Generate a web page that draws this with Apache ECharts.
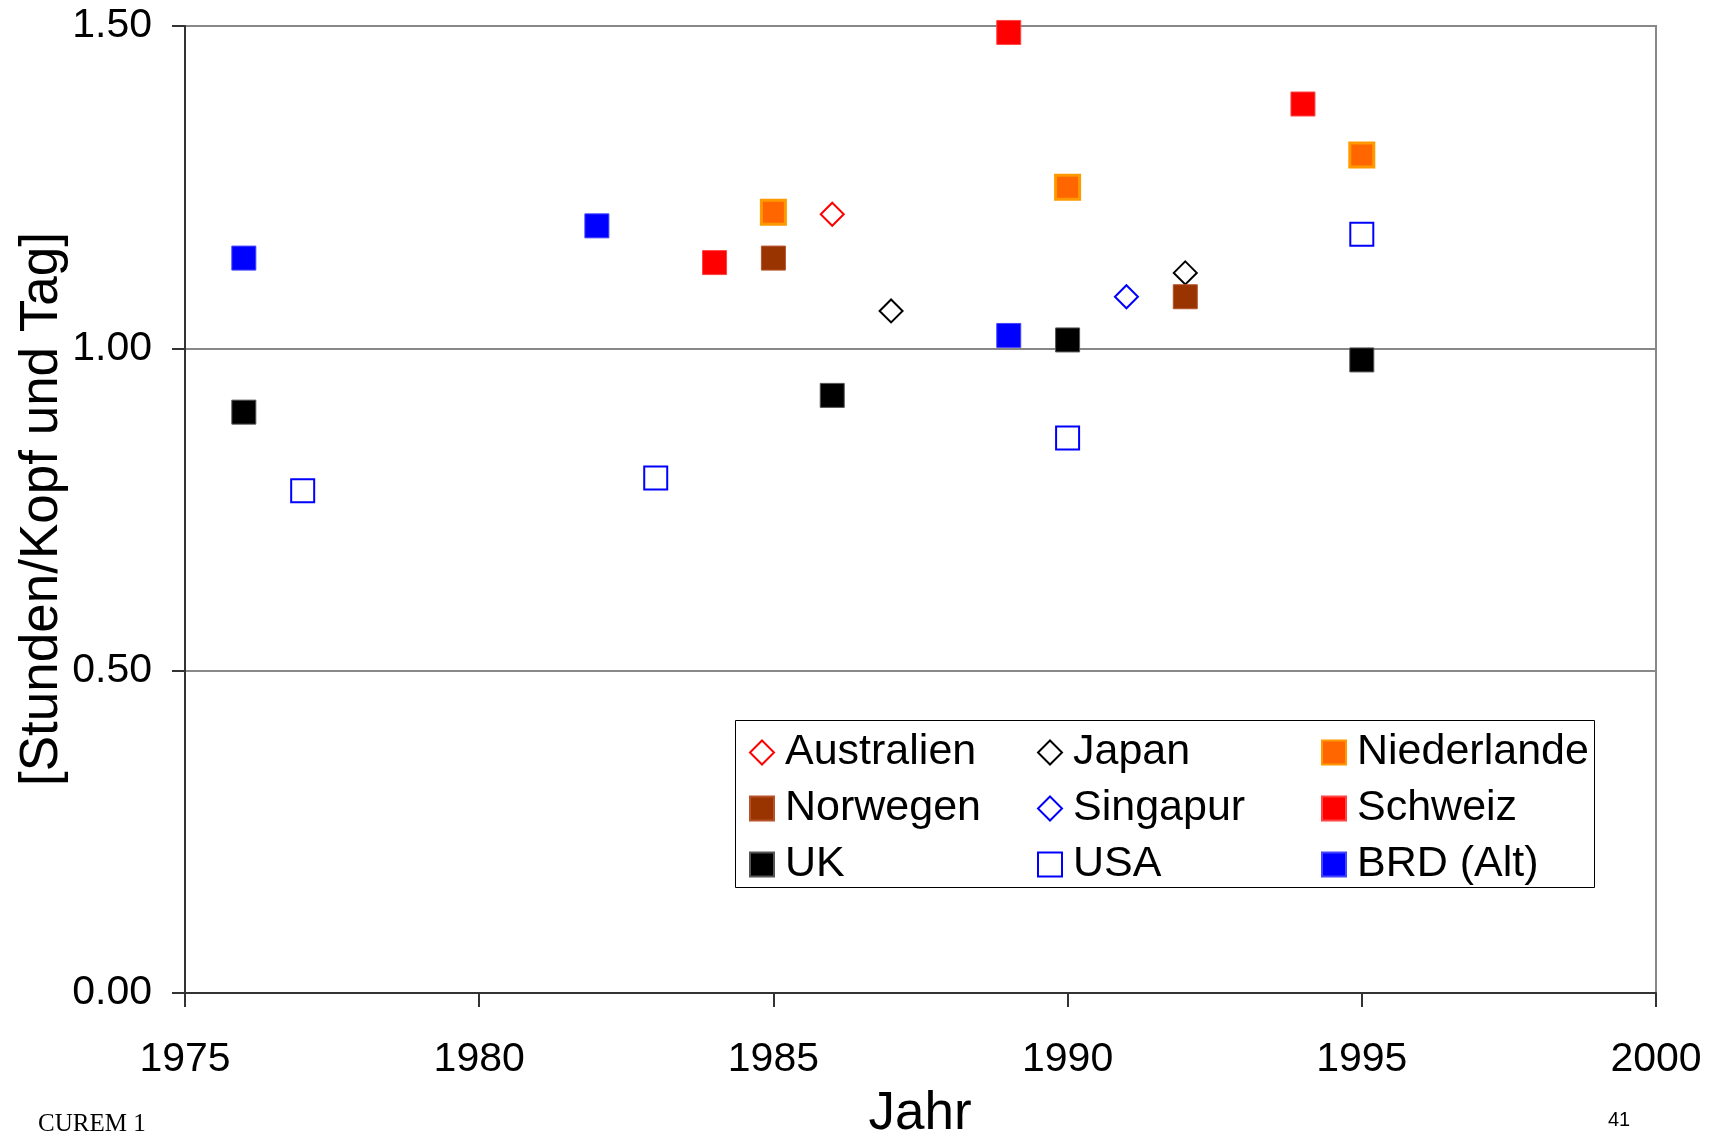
<!DOCTYPE html>
<html>
<head>
<meta charset="utf-8">
<script src="https://cdn.jsdelivr.net/npm/echarts@6/dist/echarts.min.js"></script>
<style>
  html, body { margin: 0; padding: 0; background: #fff; }
  #chart { width: 1718px; height: 1137px; }
</style>
</head>
<body>
<div id="chart"></div>
<script>
// Stunden pro Kopf und Tag, nach Land und Erhebungsjahr
const australien  = [[1986, 1.208]];
const japan       = [[1987, 1.058], [1992, 1.117]];
const niederlande = [[1985, 1.211], [1990, 1.250], [1995, 1.300]];
const norwegen    = [[1985, 1.140], [1992, 1.080]];
const singapur    = [[1991, 1.080]];
const schweiz     = [[1984, 1.133], [1989, 1.490], [1994, 1.379]];
const uk          = [[1976, 0.901], [1986, 0.927], [1990, 1.013], [1995, 0.982]];
const usa         = [[1977, 0.779], [1983, 0.799], [1990, 0.861], [1995, 1.177]];
const brdAlt      = [[1976, 1.140], [1982, 1.190], [1989, 1.020]];

const yTicks = [0, 0.5, 1.0, 1.5];
const xTicks = [1975, 1980, 1985, 1990, 1995, 2000];

const FONT = '"Liberation Sans", Arial, sans-serif';

function hollow(name, symbol, color, data) {
  return {
    name, type: 'scatter', data, symbol, symbolSize: 23,
    itemStyle: { color: '#ffffff', borderColor: color, borderWidth: 2, opacity: 1 }
  };
}
function filled(name, color, border, data, bw) {
  return {
    name, type: 'scatter', data, symbol: 'rect', symbolSize: 24,
    itemStyle: { color, borderColor: border, borderWidth: bw, opacity: 1 }
  };
}

const legendBase = {
  orient: 'vertical', padding: 0, itemWidth: 24, itemHeight: 24, itemGap: 13,
  textStyle: { fontFamily: FONT, fontSize: 43, lineHeight: 43, color: '#000', padding: [0, 0, 0, 6] },
  selectedMode: false
};

const chart = echarts.init(document.getElementById('chart'), null, { renderer: 'canvas' });
chart.setOption({
  animation: false,
  backgroundColor: '#ffffff',
  grid: { left: 185, right: 62, top: 26, bottom: 144, show: true, borderColor: '#888', borderWidth: 2 },
  xAxis: {
    type: 'value', min: xTicks[0], max: xTicks[xTicks.length - 1], interval: 5,
    axisLine: { show: true, onZero: false, lineStyle: { color: '#333', width: 2 } },
    axisTick: { show: true, length: 14, lineStyle: { color: '#333', width: 2 } },
    axisLabel: { margin: 46, fontFamily: FONT, fontSize: 41, color: '#000', formatter: v => String(v) },
    splitLine: { show: false }
  },
  yAxis: {
    type: 'value', min: yTicks[0], max: yTicks[yTicks.length - 1], interval: 0.5,
    axisLine: { show: true, lineStyle: { color: '#333', width: 2 } },
    axisTick: { show: true, length: 13, lineStyle: { color: '#333', width: 2 } },
    axisLabel: { margin: 33, fontFamily: FONT, fontSize: 41, color: '#000', formatter: v => v.toFixed(2) },
    splitLine: { show: true, lineStyle: { color: '#888', width: 2 } }
  },
  legend: [
    Object.assign({}, legendBase, { left: 749, top: 731, data: ['Australien', 'Norwegen', 'UK'] }),
    Object.assign({}, legendBase, { left: 1037, top: 731, data: ['Japan', 'Singapur', 'USA'] }),
    Object.assign({}, legendBase, { left: 1321, top: 731, data: ['Niederlande', 'Schweiz', 'BRD (Alt)'] })
  ],
  graphic: [
    { type: 'rect', shape: { x: 735.5, y: 720.5, width: 859, height: 167 },
      style: { fill: 'none', stroke: '#000', lineWidth: 1 }, z: 1 },
    { type: 'text', x: 920, y: 1114,
      style: { text: 'Jahr', font: '53px "Liberation Sans", Arial, sans-serif', fill: '#000', textAlign: 'center', textVerticalAlign: 'middle' } },
    { type: 'text', x: 42, y: 509, rotation: Math.PI / 2,
      style: { text: '[Stunden/Kopf und Tag]', font: '53px "Liberation Sans", Arial, sans-serif', fill: '#000', textAlign: 'center', textVerticalAlign: 'middle' } },
    { type: 'text', x: 38, y: 1124,
      style: { text: 'CUREM 1', font: '25px "Liberation Serif", "Times New Roman", serif', fill: '#000', textAlign: 'left', textVerticalAlign: 'middle' } },
    { type: 'text', x: 1608, y: 1120,
      style: { text: '41', font: '20px "Liberation Sans", Arial, sans-serif', fill: '#000', textAlign: 'left', textVerticalAlign: 'middle' } }
  ],
  series: [
    hollow('Australien', 'diamond', '#ff0000', australien),
    hollow('Japan', 'diamond', '#000000', japan),
    filled('Niederlande', '#ff6600', '#ff9900', niederlande, 3),
    filled('Norwegen', '#993300', '#b5532a', norwegen, 1),
    hollow('Singapur', 'diamond', '#0000ff', singapur),
    filled('Schweiz', '#ff0000', '#ff4444', schweiz, 1),
    filled('UK', '#000000', '#555555', uk, 1),
    hollow('USA', 'rect', '#0000ff', usa),
    filled('BRD (Alt)', '#0000ff', '#4444ff', brdAlt, 1)
  ]
});
</script>
</body>
</html>
